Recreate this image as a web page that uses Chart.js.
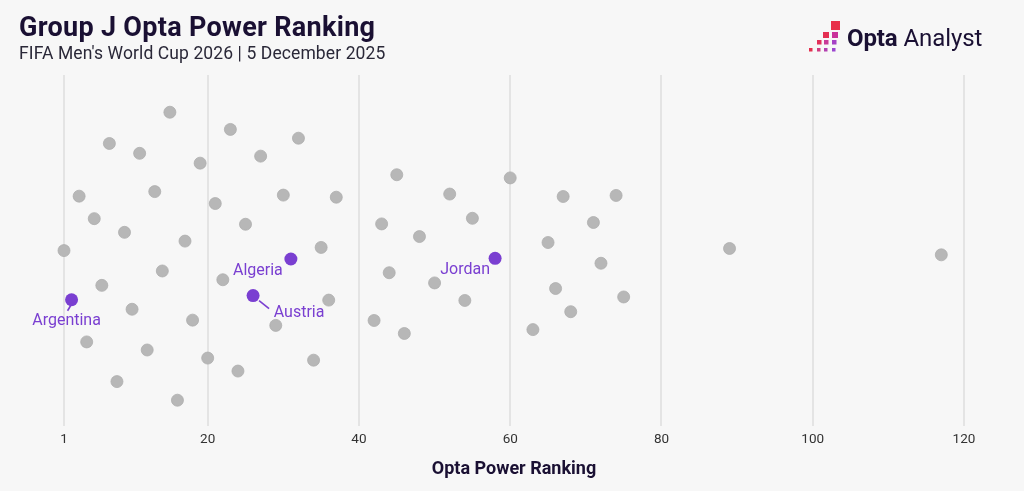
<!DOCTYPE html>
<html>
<head>
<meta charset="utf-8">
<script src="https://cdn.jsdelivr.net/npm/chart.js@4.4.1/dist/chart.umd.min.js"></script>
<style>
  html, body { margin: 0; padding: 0; background: #f7f7f7; }
  #wrap { position: relative; width: 1024px; height: 491px; overflow: hidden; font-family: Roboto, sans-serif; }
  #chart { position: absolute; left: 0; top: 0; }
  h1 { position: absolute; left: 19px; top: 11px; margin: 0; font-size: 27px; font-weight: 700; color: #1a1033; letter-spacing: 0.3px; }
  .sub { position: absolute; left: 19px; top: 43px; margin: 0; font-size: 17.5px; color: #2a2838; letter-spacing: 0.1px; }
  .logo { position: absolute; left: 809px; top: 21px; display: flex; align-items: center; }
  .logo span { font-size: 24px; color: #1a1033; margin-left: 6px; letter-spacing: -0.1px; position: relative; top: 1px; }
  .logo b { font-weight: 700; }
</style>
</head>
<body>
<div id="wrap">
  <canvas id="chart" width="1024" height="491"></canvas>
  <h1>Group J Opta Power Ranking</h1>
  <p class="sub">FIFA Men's World Cup 2026 | 5 December 2025</p>
  <div class="logo">
    <svg width="32" height="32" viewBox="0 0 32 32">
      <rect x="22" y="0" width="9" height="9" fill="#e8304a"/>
      <rect x="14" y="11" width="6" height="6" fill="#e42f52"/>
      <rect x="23" y="11" width="6" height="6" fill="#c9329a"/>
      <rect x="8" y="19" width="4.5" height="4.5" fill="#e2305a"/>
      <rect x="15" y="19" width="4.5" height="4.5" fill="#c93a98"/>
      <rect x="23" y="19" width="4.5" height="4.5" fill="#a541c6"/>
      <rect x="0" y="27" width="3.5" height="3.5" fill="#e3304f"/>
      <rect x="8" y="27" width="3.5" height="3.5" fill="#d23a80"/>
      <rect x="15" y="27" width="3.5" height="3.5" fill="#b340b0"/>
      <rect x="23" y="27" width="3.5" height="3.5" fill="#9b45d0"/>
    </svg>
    <span><b>Opta</b> Analyst</span>
  </div>
</div>
<script>
// ---------------------------
// Data
// ---------------------------
const tickValues = [1, 20, 40, 60, 80, 100, 120];

// every other team in the tournament field (rank, vertical jitter 0-100)
const otherRanks = [1, 3, 4, 5, 6, 7, 8, 9, 10, 11, 12, 13, 14, 15, 16, 17, 18, 19, 20, 21, 22, 23, 24, 25, 27,
  29, 30, 32, 34, 35, 36, 37, 42, 43, 44, 45, 46, 48, 50, 52, 54, 55, 60, 63, 65, 66, 67, 68, 71, 72, 74, 75, 89, 117];
const otherJitter = [50, 65.5, 24, 59.1, 40.1, 80.5, 12.7, 55.2, 33.3, 77.7, 21.7, 66.8, 44.2, 89.4, 7.4, 52.7, 30.2, 74.9, 19.4, 63.4, 41.7, 84.5, 15.7, 57.5, 76.9,
  28.7, 65.8, 82.0, 18.8, 50.9, 35.9, 65.2, 30.1, 57.6, 43.7, 71.6, 26.4, 54.0, 40.8, 66.1, 35.8, 59.2, 70.7, 27.5, 52.3, 39.2, 65.4, 32.6, 58.0, 46.4, 65.7, 36.8, 50.6, 48.8];

// Group J teams
const groupTeams = ['Argentina', 'Austria', 'Algeria', 'Jordan'];
const groupRanks = [2, 26, 31, 58];
const groupJitter = [36, 37.2, 47.6, 47.8];

// label placement for the group teams (offset from the dot, px) + leader lines
const labelStyle = {
  Argentina: { dx: -5, dy: 21, line: [[-1, 6], [-4, 11]] },
  Austria:   { dx: 46, dy: 17, line: [[6, 5], [16, 13]] },
  Algeria:   { dx: -33, dy: 12 },
  Jordan:    { dx: -30, dy: 12 }
};

const purple = '#7a3fd1';
const grey = '#b7b7b7';

const groupLabels = {
  id: 'groupLabels',
  afterDatasetsDraw(chart) {
    const { ctx, scales: { x, y } } = chart;
    ctx.save();
    ctx.font = '16px Roboto, sans-serif';
    ctx.fillStyle = purple;
    ctx.strokeStyle = purple;
    ctx.lineWidth = 1.6;
    ctx.textAlign = 'center';
    ctx.textBaseline = 'middle';
    groupTeams.forEach((team, i) => {
      const px = x.getPixelForValue(groupRanks[i]);
      const py = y.getPixelForValue(groupJitter[i]);
      const s = labelStyle[team];
      if (s.line) {
        ctx.beginPath();
        ctx.moveTo(px + s.line[0][0], py + s.line[0][1]);
        ctx.lineTo(px + s.line[1][0], py + s.line[1][1]);
        ctx.stroke();
      }
      ctx.fillText(team, px + s.dx, py + s.dy);
    });
    ctx.restore();
  }
};

new Chart(document.getElementById('chart'), {
  type: 'scatter',
  data: {
    datasets: [
      {
        data: groupRanks.map((r, i) => ({ x: r, y: groupJitter[i] })),
        backgroundColor: purple,
        borderWidth: 0,
        pointRadius: 6.5,
        pointHoverRadius: 6.5,
        clip: false
      },
      {
        data: otherRanks.map((r, i) => ({ x: r, y: otherJitter[i] })),
        backgroundColor: grey,
        borderColor: '#adadad',
        borderWidth: 0.8,
        pointRadius: 6,
        pointHoverRadius: 6,
        clip: false
      }
    ]
  },
  options: {
    responsive: false,
    animation: false,
    events: [],
    layout: { padding: { top: 75, left: 64, right: 60, bottom: 7 } },
    plugins: { legend: { display: false }, tooltip: { enabled: false } },
    scales: {
      x: {
        type: 'linear',
        min: 1,
        max: 120,
        afterBuildTicks: (axis) => { axis.ticks = tickValues.map(v => ({ value: v })); },
        grid: { color: '#e4e4e4', lineWidth: 2, drawTicks: false },
        border: { display: false },
        ticks: { padding: 5, color: '#333333', font: { family: 'Roboto', size: 13.5 } },
        title: {
          display: true,
          text: 'Opta Power Ranking',
          color: '#1a1033',
          font: { family: 'Roboto', size: 18, weight: 'bold' },
          padding: { top: 6, bottom: 4 }
        }
      },
      y: { display: false, min: 0, max: 100 }
    }
  },
  plugins: [groupLabels]
});
</script>
</body>
</html>
